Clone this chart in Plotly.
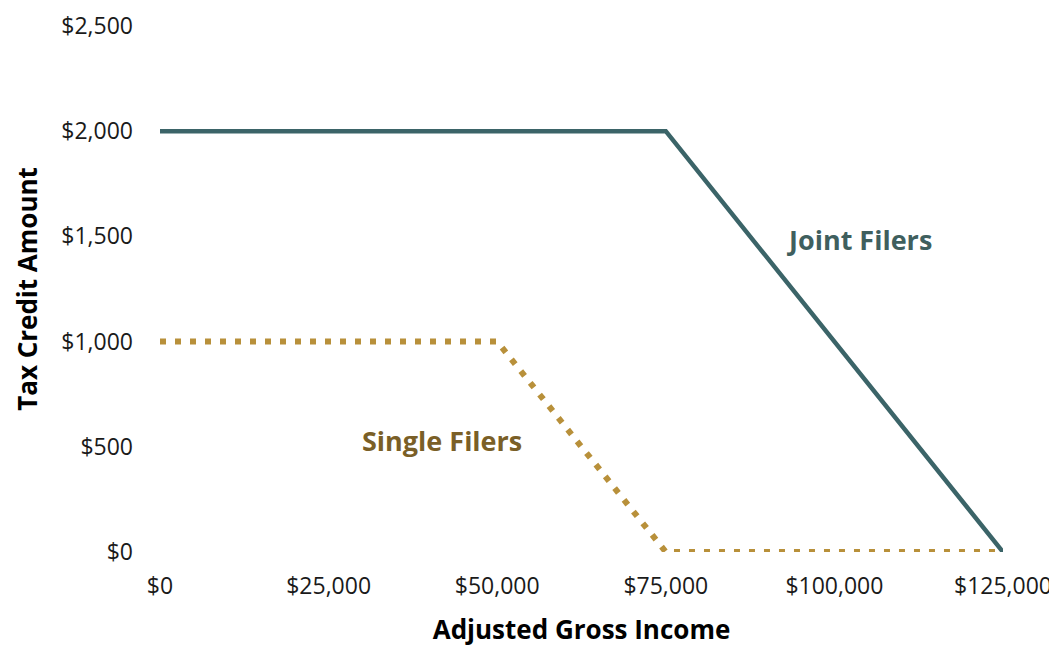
import plotly.graph_objects as go

joint_x = [0, 75000, 125000]
joint_y = [2000, 2000, 0]
single_x = [0, 50000, 75000, 125000]
single_y = [1000, 1000, 0, 0]
x_ticks = [0, 25000, 50000, 75000, 100000, 125000]
x_labels = ["$0", "$25,000", "$50,000", "$75,000", "$100,000", "$125,000"]
y_ticks = [0, 500, 1000, 1500, 2000, 2500]
y_labels = ["$0", "$500", "$1,000", "$1,500", "$2,000", "$2,500"]

FONT = "Open Sans, Noto Sans, sans-serif"

fig = go.Figure()
fig.add_trace(go.Scatter(x=joint_x, y=joint_y, mode="lines", name="Joint Filers",
                         line=dict(color="#3B6468", width=4.5), showlegend=False))
fig.add_trace(go.Scatter(x=single_x, y=single_y, mode="lines", name="Single Filers",
                         line=dict(color="#B8903A", width=6, dash="6px,9px"), showlegend=False))

fig.add_annotation(x=103700, y=1486, text="<b>Joint Filers</b>", showarrow=False,
                   font=dict(size=27, color="#3F5F5E", family=FONT))
fig.add_annotation(x=41800, y=529, text="<b>Single Filers</b>", showarrow=False,
                   font=dict(size=27, color="#7A5F27", family=FONT))

fig.update_layout(
    width=1057, height=648,
    margin=dict(l=152, r=62, t=18, b=104),
    plot_bgcolor="white", paper_bgcolor="white",
    font=dict(family=FONT, size=23, color="#1a1a1a"),
    xaxis=dict(range=[0, 125000], tickvals=x_ticks, ticktext=x_labels,
               showgrid=False, zeroline=False, showline=False, automargin=False,
               ticklabelstandoff=18, ticklabeloverflow="allow",
               title=dict(text="<b>Adjusted Gross Income</b>", font=dict(size=26, color="#000000"), standoff=20)),
    yaxis=dict(range=[0, 2500], tickvals=y_ticks, ticktext=y_labels,
               showgrid=False, zeroline=False, showline=False, automargin=False,
               ticklabelstandoff=26, ticklabeloverflow="allow",
               title=dict(text="<b>Tax Credit Amount</b>", font=dict(size=26, color="#000000"), standoff=16)),
)

fig.write_html("out.html")
